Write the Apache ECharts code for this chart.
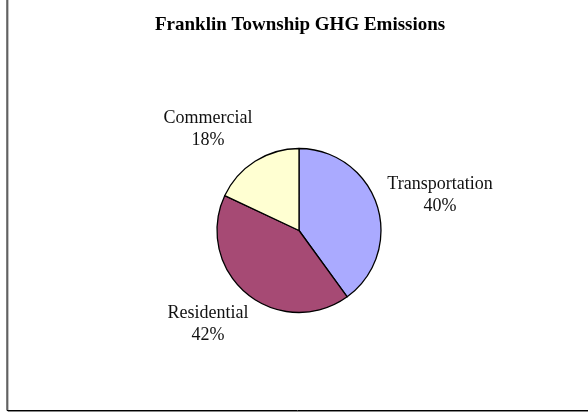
<!DOCTYPE html>
<html>
<head>
<meta charset="utf-8">
<script src="https://cdn.jsdelivr.net/npm/echarts@6/dist/echarts.min.js"></script>
<style>
  html, body { margin: 0; padding: 0; background: #fff; }
  #chart { width: 588px; height: 413px; }
</style>
</head>
<body>
<div id="chart"></div>
<script>
// Emission shares by sector (percent)
const categories = ['Transportation', 'Residential', 'Commercial'];
const shares = [40, 42, 18];
const sliceColors = ['#AAAAFF', '#A64A74', '#FFFFD2'];

// Label centres relative to the pie centre, in pixels
const labelOffsets = [[141, -35], [-91, 94], [-91, -101]];

const W = 588, H = 413;
const CX = 299, CY = 230.5, R = 82;

const chart = echarts.init(document.getElementById('chart'), null, { renderer: 'canvas' });

chart.setOption({
  backgroundColor: '#fff',
  animation: false,
  title: {
    text: 'Franklin Township GHG Emissions',
    left: 150,
    top: 11,
    textStyle: {
      fontFamily: 'Liberation Serif',
      fontWeight: 'bold',
      fontSize: 19,
      color: '#000'
    }
  },
  graphic: [
    // frame shadow
    { type: 'polyline', silent: true,
      shape: { points: [[8, 0], [8, 411.5], [W, 411.5]] },
      style: { stroke: '#888', lineWidth: 1, fill: null } },
    // frame
    { type: 'polyline', silent: true,
      shape: { points: [[7, 0], [7, 410.5], [W, 410.5]] },
      style: { stroke: '#000', lineWidth: 1, fill: null } }
  ],
  series: [{
    type: 'pie',
    center: [CX, CY],
    radius: R,
    startAngle: 90,
    clockwise: true,
    label: {
      show: true,
      position: 'outside',
      formatter: p => p.name + '\n' + p.value + '%',
      fontFamily: 'Liberation Serif',
      fontSize: 18,
      lineHeight: 22,
      color: '#111'
    },
    labelLine: { show: false },
    labelLayout: params => {
      const o = labelOffsets[params.dataIndex];
      return { x: CX + o[0], y: CY + o[1], align: 'center', verticalAlign: 'middle' };
    },
    itemStyle: { borderColor: '#000', borderWidth: 1.3 },
    emphasis: { disabled: true },
    data: categories.map((c, i) => ({
      name: c,
      value: shares[i],
      itemStyle: { color: sliceColors[i] }
    }))
  }]
});
</script>
</body>
</html>
